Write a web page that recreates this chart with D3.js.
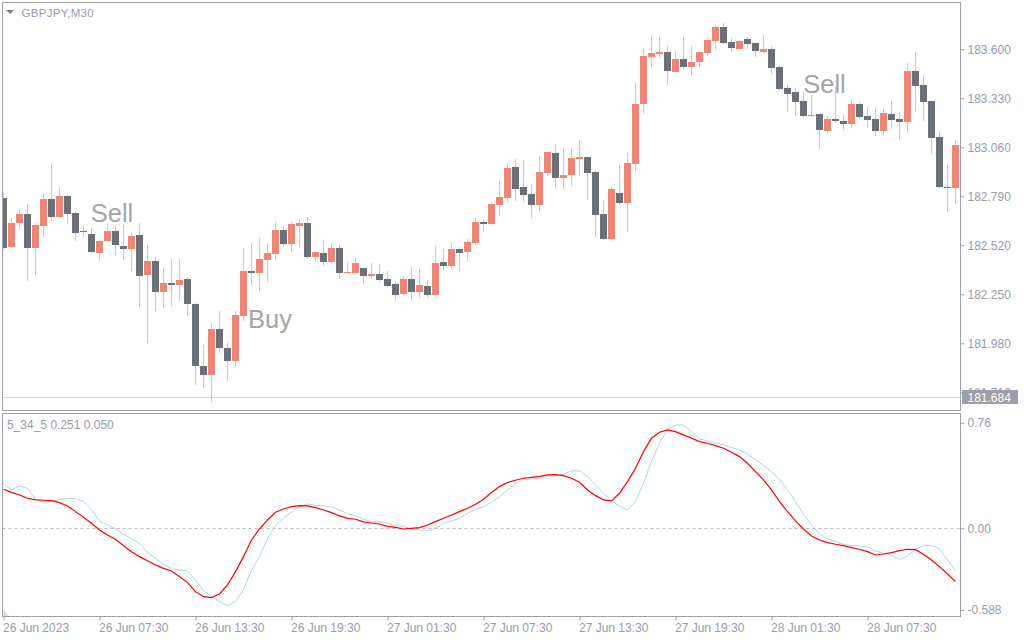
<!DOCTYPE html>
<html><head><meta charset="utf-8">
<script src="https://cdn.jsdelivr.net/npm/d3@7"></script>
<style>body{margin:0;background:#fff}svg{display:block}text{font-family:"Liberation Sans",Arial,sans-serif}</style>
</head><body><svg id="c" width="1024" height="640"></svg>
<script>
const title = "GBPJPY,M30";
const oscLabel = "5_34_5 0.251 0.050";
const open = [
182.782,182.511,182.645,182.693,182.507,182.628,182.775,182.676,182.792,182.698,
182.599,182.582,182.479,182.546,182.599,182.516,182.501,182.577,182.356,182.433,
182.264,182.312,182.301,182.336,182.198,181.857,181.807,182.059,181.956,181.884,
182.132,182.380,182.367,182.441,182.474,182.604,182.529,182.628,182.643,182.457,
182.478,182.430,182.505,182.367,182.367,182.395,182.353,182.362,182.334,182.307,
182.253,182.334,182.264,182.296,182.248,182.428,182.406,182.500,182.483,182.534,
182.648,182.639,182.744,182.782,182.951,182.841,182.803,182.744,182.920,183.029,
182.893,182.909,182.997,183.007,182.924,182.694,182.556,182.810,182.755,182.970,
183.300,183.559,183.576,183.585,183.477,183.547,183.504,183.532,183.581,183.647,
183.723,183.640,183.603,183.657,183.635,183.587,183.602,183.502,183.387,183.365,
183.315,183.232,183.243,183.152,183.216,183.205,183.190,183.299,183.232,183.216,
183.152,183.243,183.216,183.201,183.480,183.403,183.315,183.117,182.843,182.837];
const high = [
182.815,182.669,182.718,182.748,182.645,182.810,182.975,182.849,182.804,182.711,
182.626,182.614,182.555,182.645,182.626,182.632,182.586,182.645,182.522,182.457,
182.393,182.448,182.448,182.345,182.202,181.971,182.096,182.158,181.986,182.156,
182.503,182.534,182.560,182.527,182.648,182.626,182.647,182.665,182.676,182.483,
182.549,182.534,182.520,182.428,182.448,182.395,182.423,182.417,182.378,182.323,
182.351,182.406,182.389,182.329,182.516,182.500,182.538,182.512,182.555,182.671,
182.665,182.760,182.874,182.968,182.995,182.990,182.860,183.012,183.034,183.078,
183.051,183.051,183.100,183.007,182.935,182.770,182.849,182.962,183.029,183.420,
183.602,183.679,183.668,183.618,183.596,183.668,183.618,183.592,183.662,183.732,
183.745,183.661,183.651,183.668,183.635,183.684,183.618,183.510,183.403,183.387,
183.365,183.348,183.243,183.234,183.394,183.243,183.321,183.310,183.282,183.280,
183.271,183.315,183.254,183.525,183.585,183.458,183.315,183.152,182.964,183.100];
const low = [
182.494,182.507,182.604,182.325,182.356,182.559,182.654,182.671,182.637,182.546,
182.559,182.476,182.430,182.540,182.468,182.439,182.380,182.182,181.980,182.160,
182.176,182.187,182.209,182.132,181.752,181.735,181.658,181.928,181.769,181.851,
182.104,182.303,182.270,182.320,182.439,182.512,182.485,182.512,182.445,182.435,
182.406,182.421,182.336,182.367,182.367,182.308,182.336,182.320,182.292,182.209,
182.248,182.215,182.231,182.231,182.231,182.386,182.391,182.380,182.430,182.523,
182.601,182.634,182.683,182.760,182.766,182.760,182.672,182.711,182.903,182.832,
182.832,182.848,182.903,182.771,182.567,182.551,182.546,182.742,182.595,182.931,
183.245,183.504,183.554,183.399,183.469,183.486,183.460,183.504,183.565,183.598,
183.631,183.587,183.602,183.603,183.559,183.581,183.465,183.376,183.256,183.234,
183.221,183.227,183.047,183.135,183.196,183.157,183.168,183.218,183.174,183.124,
183.129,183.174,183.102,183.140,183.262,183.207,183.025,182.837,182.705,182.749];
const close = [
182.507,182.643,182.693,182.507,182.632,182.775,182.678,182.792,182.693,182.590,
182.592,182.485,182.544,182.599,182.523,182.501,182.571,182.353,182.433,182.264,
182.312,182.303,182.330,182.198,181.857,181.807,182.059,181.956,181.884,182.138,
182.379,182.369,182.445,182.478,182.604,182.529,182.637,182.643,182.457,182.483,
182.430,182.505,182.369,182.375,182.423,182.353,182.362,182.330,182.297,182.248,
182.334,182.264,182.301,182.248,182.423,182.408,182.500,182.478,182.538,182.648,
182.639,182.748,182.786,182.946,182.832,182.799,182.744,182.924,183.034,182.893,
182.907,182.999,183.007,182.920,182.689,182.556,182.832,182.755,182.973,183.299,
183.563,183.580,183.585,183.482,183.547,183.504,183.530,183.585,183.651,183.723,
183.636,183.609,183.646,183.631,183.592,183.602,183.499,183.383,183.355,183.311,
183.234,183.238,183.157,183.216,183.207,183.190,183.299,183.227,183.212,183.152,
183.249,183.212,183.201,183.480,183.399,183.311,183.113,182.843,182.837,183.073];
const oscMain = [
0.281,0.259,0.240,0.216,0.204,0.202,0.199,0.185,0.161,0.120,
0.079,0.036,-0.012,-0.048,-0.079,-0.125,-0.168,-0.204,-0.233,-0.264,
-0.288,-0.307,-0.348,-0.389,-0.456,-0.492,-0.499,-0.473,-0.408,-0.312,
-0.204,-0.084,-0.005,0.060,0.115,0.139,0.156,0.163,0.161,0.149,
0.132,0.113,0.089,0.072,0.065,0.046,0.038,0.031,0.014,0.007,
-0.005,0.000,0.005,0.024,0.048,0.072,0.096,0.120,0.144,0.173,
0.209,0.257,0.300,0.329,0.346,0.360,0.367,0.374,0.384,0.386,
0.379,0.360,0.331,0.276,0.235,0.204,0.197,0.252,0.336,0.432,
0.552,0.648,0.691,0.708,0.696,0.672,0.648,0.624,0.612,0.595,
0.576,0.547,0.516,0.468,0.408,0.348,0.276,0.192,0.120,0.053,
-0.005,-0.055,-0.084,-0.103,-0.115,-0.125,-0.139,-0.151,-0.168,-0.192,
-0.185,-0.175,-0.161,-0.151,-0.154,-0.187,-0.228,-0.276,-0.329,-0.384];
const oscSignal = [
0.324,0.276,0.305,0.288,0.209,0.190,0.194,0.206,0.214,0.216,
0.192,0.132,0.055,0.024,-0.007,-0.043,-0.077,-0.108,-0.175,-0.216,
-0.259,-0.293,-0.300,-0.305,-0.372,-0.449,-0.492,-0.528,-0.557,-0.528,
-0.444,-0.300,-0.204,-0.072,0.019,0.077,0.115,0.156,0.175,0.166,
0.161,0.154,0.130,0.106,0.091,0.065,0.048,0.046,0.036,0.019,
0.014,-0.005,-0.012,-0.019,0.000,0.036,0.053,0.072,0.108,0.137,
0.156,0.187,0.228,0.276,0.317,0.353,0.355,0.360,0.372,0.377,
0.389,0.413,0.413,0.372,0.312,0.252,0.197,0.158,0.132,0.192,
0.324,0.480,0.612,0.713,0.744,0.744,0.696,0.643,0.629,0.612,
0.600,0.581,0.564,0.533,0.492,0.451,0.408,0.355,0.276,0.192,
0.101,0.024,-0.043,-0.077,-0.096,-0.115,-0.125,-0.127,-0.134,-0.163,
-0.180,-0.192,-0.223,-0.199,-0.151,-0.125,-0.125,-0.149,-0.228,-0.305];
const priceTicks = [183.6,183.33,183.06,182.79,182.52,182.25,181.98,181.71];
const oscTicks = [0.76,0.00,-0.588];
const oscTickLabels = ["0.76","0.00","-0.588"];
const dateBars = [0,12,24,36,48,60,72,84,96,108];
const dateLabels = ["26 Jun 2023","26 Jun 07:30","26 Jun 13:30","26 Jun 19:30","27 Jun 01:30","27 Jun 07:30","27 Jun 13:30","27 Jun 19:30","28 Jun 01:30","28 Jun 07:30"];
const bidPrice = 181.684;
const signalText = ["Sell","Buy","Sell"];
const signalBar = [10.9,30.56,99.97];
const signalPrice = [182.650,182.063,183.357];

const svg = d3.select("#c");
svg.append("rect").attr("width",1024).attr("height",640).attr("fill","#ffffff");
const L=2.5,R=960.5,MT=2.5,MB=410.5,OT=413.5,OB=616.5;
const axisCol="#9b9bab", borderCol="#a0a0a8";
const x = d3.scaleLinear().domain([0,119]).range([3.5,955.5]);
const y = d3.scaleLinear().domain([181.71,183.6]).range([392.3,49.3]);
const yo = d3.scaleLinear().domain([0,0.76]).range([528.3,422.7]);

const defs = svg.append("defs");
defs.append("clipPath").attr("id","cm").append("rect").attr("x",L).attr("y",MT).attr("width",R-L).attr("height",MB-MT);
defs.append("clipPath").attr("id","co").append("rect").attr("x",L).attr("y",OT).attr("width",R-L).attr("height",OB-OT);

const gm = svg.append("g").attr("clip-path","url(#cm)");
gm.append("line").attr("x1",L).attr("x2",R).attr("y1",Math.round(y(bidPrice))+0.5).attr("y2",Math.round(y(bidPrice))+0.5)
  .attr("stroke","#d6d6de").attr("stroke-width",1);

const idx = d3.range(open.length);
gm.selectAll("line.w").data(idx).join("line").attr("class","w")
  .attr("x1",i=>x(i)).attr("x2",i=>x(i)).attr("y1",i=>y(high[i])).attr("y2",i=>y(low[i]))
  .attr("stroke","#c9c9d3").attr("stroke-width",1).attr("shape-rendering","crispEdges");
gm.selectAll("rect.b").data(idx).join("rect").attr("class","b")
  .attr("x",i=>x(i)-3.5).attr("width",7)
  .attr("y",i=>y(Math.max(open[i],close[i])))
  .attr("height",i=>Math.max(1.5,Math.abs(y(open[i])-y(close[i]))))
  .attr("fill",i=>close[i]>open[i]?"#ee8677":"#6a6f78").attr("shape-rendering","crispEdges");

gm.selectAll("text.s").data(signalText).join("text").attr("class","s")
  .attr("x",(d,i)=>x(signalBar[i])).attr("y",(d,i)=>y(signalPrice[i]))
  .attr("font-size",25.5).attr("fill","#a5a5a5").text(d=>d);

svg.append("path").attr("d","M6,10 L14,10 L10,14 Z").attr("fill","#7d7d92");
svg.append("text").attr("x",21.5).attr("y",16.5).attr("font-size",11.5).attr("fill",axisCol).attr("letter-spacing",0.3).text(title);

const pa = svg.append("g").attr("transform",`translate(${R},0)`)
  .call(d3.axisRight(y).tickValues(priceTicks).tickFormat(d3.format(".3f")).tickSize(4).tickPadding(3));
pa.select(".domain").remove();
pa.selectAll("line").attr("stroke",borderCol);
pa.selectAll("text").attr("fill",axisCol).attr("font-size",12).attr("font-family","Liberation Sans, Arial, sans-serif");

const by = y(bidPrice);
svg.append("rect").attr("x",962).attr("y",by-7).attr("width",56).attr("height",14).attr("fill","#9e9ea6");
svg.append("text").attr("x",967.5).attr("y",by+4.5).attr("font-size",12).attr("fill","#ffffff").text(d3.format(".3f")(bidPrice));

const go = svg.append("g").attr("clip-path","url(#co)");
go.append("line").attr("x1",L).attr("x2",R).attr("y1",Math.round(yo(0))+0.5).attr("y2",Math.round(yo(0))+0.5)
  .attr("stroke","#b8b8c0").attr("stroke-dasharray","3,3");
const line = d3.line().x((d,i)=>x(i)).y(d=>yo(d));
go.append("path").datum(oscSignal).attr("d",line).attr("fill","none").attr("stroke","#a9d7e3").attr("stroke-width",1);
go.append("path").datum(oscMain).attr("d",line).attr("fill","none").attr("stroke","#ff0000").attr("stroke-width",1.2);
go.append("path").attr("d",`M${L+0.5},${OB-7} L${L+0.5},${OB} L${L+7},${OB} Z`).attr("fill","#dcdce4");
svg.append("text").attr("x",7).attr("y",429).attr("font-size",12).attr("fill",axisCol).text(oscLabel);

const oa = svg.append("g").attr("transform",`translate(${R},0)`)
  .call(d3.axisRight(yo).tickValues(oscTicks).tickFormat((d,i)=>oscTickLabels[i]).tickSize(4).tickPadding(3));
oa.select(".domain").remove();
oa.selectAll("line").attr("stroke",borderCol);
oa.selectAll("text").attr("fill",axisCol).attr("font-size",12).attr("font-family","Liberation Sans, Arial, sans-serif");

const da = svg.append("g").attr("transform",`translate(0,${OB})`)
  .call(d3.axisBottom(x).tickValues(dateBars).tickFormat((d,i)=>dateLabels[i]).tickSize(4).tickPadding(3));
da.select(".domain").remove();
da.selectAll("line").attr("stroke",borderCol);
da.selectAll("text").attr("fill",axisCol).attr("font-size",12).attr("text-anchor","start").attr("x",-1)
  .attr("font-family","Liberation Sans, Arial, sans-serif");

svg.append("rect").attr("x",L).attr("y",MT).attr("width",R-L).attr("height",MB-MT).attr("fill","none").attr("stroke",borderCol);
svg.append("rect").attr("x",L).attr("y",OT).attr("width",R-L).attr("height",OB-OT).attr("fill","none").attr("stroke",borderCol);
</script></body></html>
